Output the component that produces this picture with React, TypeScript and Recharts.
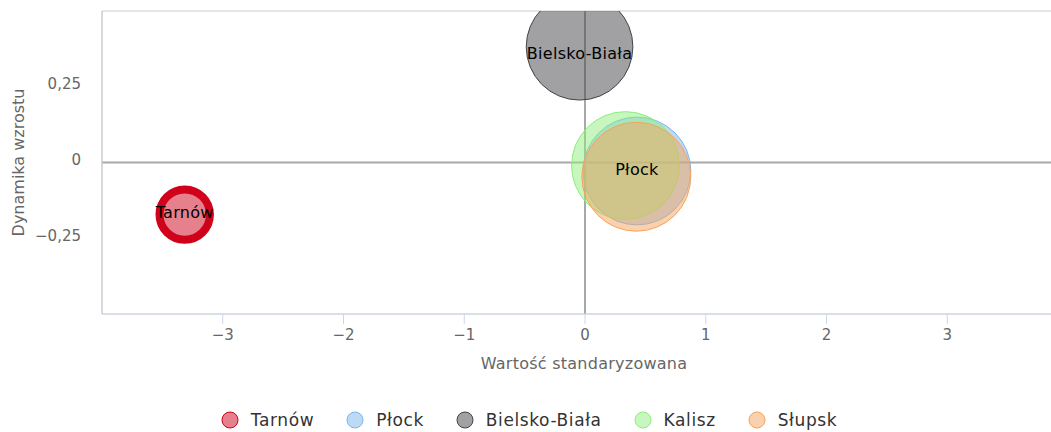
import {
  ScatterChart,
  Scatter,
  XAxis,
  YAxis,
  ZAxis,
  ReferenceLine,
  ReferenceArea,
  LabelList,
} from 'recharts'

// values
const cities = ['Tarnów', 'Płock', 'Bielsko-Biała', 'Kalisz', 'Słupsk']
const standardized = [-3.315, 0.43, -0.045, 0.335, 0.425]
const growth = [-0.172, -0.028, 0.382, -0.01, -0.047]
const weight = [21, 96, 94, 96, 98]
const labelled = ['Tarnów', 'Płock', 'Bielsko-Biała']

const xTicks = [-3, -2, -1, 0, 1, 2, 3]
const yTicks = [-0.25, 0, 0.25]

const colors = ['#d0021b', '#7cb5ec', '#434348', '#90ed7d', '#f7a35c']
const lineWidths = [8, 1, 1, 1, 1]

// layout
const CHART_W = 1080
const CHART_H = 432
const TOP = 11
const Y_AXIS_W = 102
const X_AXIS_H = 118
const PLOT_BOTTOM = CHART_H - X_AXIS_H

const points = cities.map((name, i) => ({
  name,
  x: standardized[i],
  y: growth[i],
  z: weight[i],
}))
const labelPoints = points.filter(p => labelled.includes(p.name))

const fmtY = (v: number) =>
  v === 0 ? '0' : (v < 0 ? '−' : '') + String(Math.abs(v)).replace('.', ',')
const fmtX = (v: number) => (v < 0 ? '−' + Math.abs(v) : String(v))

const FONT = '"DejaVu Sans", Verdana, sans-serif'

function Bubble(color: string, width: number, id: string) {
  return (props: any) => {
    const { cx, cy, width: w } = props
    if (cx == null || cy == null) return <g />
    return (
      <g>
        <defs>
          <clipPath id={id}>
            <rect
              x={Y_AXIS_W}
              y={TOP}
              width={CHART_W}
              height={PLOT_BOTTOM - TOP}
            />
          </clipPath>
        </defs>
        <circle
          cx={cx}
          cy={cy}
          r={w / 2}
          fill={color}
          fillOpacity={0.5}
          stroke={color}
          strokeWidth={width}
          clipPath={`url(#${id})`}
        />
      </g>
    )
  }
}

// label centred on the visible (clipped) part of the bubble
function BubbleLabel(props: any) {
  const { viewBox, value } = props
  if (!viewBox) return null
  const top = Math.max(viewBox.y, TOP)
  const bottom = Math.min(viewBox.y + viewBox.height, PLOT_BOTTOM)
  const x = viewBox.x + viewBox.width / 2
  const y = (top + bottom) / 2 - 2
  return (
    <text
      x={x}
      y={y}
      dy="0.36em"
      textAnchor="middle"
      fill="#000"
      fontSize={16}
      letterSpacing={0.3}
    >
      {value}
    </text>
  )
}

function XTitle({ viewBox }: any) {
  return (
    <text
      x={584}
      y={viewBox.y + 55}
      textAnchor="middle"
      fill="#666"
      fontSize={16}
      letterSpacing={0.25}
    >
      Wartość standaryzowana
    </text>
  )
}

function YTitle({ viewBox }: any) {
  const cy = viewBox.y + viewBox.height / 2
  return (
    <text
      x={24}
      y={cy}
      textAnchor="middle"
      fill="#666"
      fontSize={16}
      transform={`rotate(-90, 24, ${cy})`}
    >
      Dynamika wzrostu
    </text>
  )
}

export default function App() {
  return (
    <div
      style={{
        position: 'absolute',
        left: 0,
        top: 0,
        width: 1051,
        height: 432,
        overflow: 'hidden',
        background: '#fff',
        fontFamily: FONT,
      }}
    >
      <ScatterChart
        width={CHART_W}
        height={CHART_H}
        margin={{ top: TOP, right: 12, bottom: 0, left: 0 }}
      >
        <XAxis
          type="number"
          dataKey="x"
          domain={[-4, 4]}
          ticks={xTicks}
          tickFormatter={fmtX}
          height={X_AXIS_H}
          allowDataOverflow
          axisLine={{ stroke: '#ccd6eb' }}
          tickLine={{ stroke: '#ccd6eb' }}
          tickSize={10}
          tickMargin={5}
          tick={{ fill: '#666', fontSize: 15 }}
          label={XTitle}
        />
        <YAxis
          type="number"
          dataKey="y"
          domain={[-0.5, 0.5]}
          ticks={yTicks}
          tickFormatter={fmtY}
          width={Y_AXIS_W}
          allowDataOverflow
          axisLine={{ stroke: '#ccc' }}
          tickLine={false}
          tickSize={0}
          tickMargin={21}
          tick={{ fill: '#666', fontSize: 15, dy: -3 }}
          label={YTitle}
        />
        <ZAxis type="number" dataKey="z" domain={[0, 100]} range={[0, 9503]} />
        <ReferenceArea
          x1={-4}
          x2={4}
          y1={-0.5}
          y2={0.5}
          fill="none"
          stroke="#ccc"
          strokeWidth={1}
        />
        <ReferenceLine x={0} stroke="#a8a8a8" strokeWidth={2} />
        <ReferenceLine y={0} stroke="#a8a8a8" strokeWidth={2} />
        {points.map((p, i) => (
          <Scatter
            key={p.name}
            name={p.name}
            data={[p]}
            shape={Bubble(colors[i], lineWidths[i], `bubble-clip-${i}`)}
            isAnimationActive={false}
          />
        ))}
        <Scatter
          name="labels"
          data={labelPoints}
          shape={() => <g />}
          isAnimationActive={false}
        >
          <LabelList dataKey="name" content={BubbleLabel} />
        </Scatter>
      </ScatterChart>
      <div
        style={{
          position: 'absolute',
          top: 410,
          left: 0,
          width: 1058,
          display: 'flex',
          justifyContent: 'center',
          gap: 32,
          fontSize: 17,
          letterSpacing: 0.6,
          color: '#333',
          lineHeight: '20px',
        }}
      >
        {cities.map((name, i) => (
          <div key={name} style={{ display: 'flex', alignItems: 'center', gap: 12 }}>
            <svg width={18} height={18}>
              <circle
                cx={9}
                cy={9}
                r={8}
                fill={colors[i]}
                fillOpacity={0.5}
                stroke={colors[i]}
                strokeWidth={1}
              />
            </svg>
            <span>{name}</span>
          </div>
        ))}
      </div>
    </div>
  )
}
